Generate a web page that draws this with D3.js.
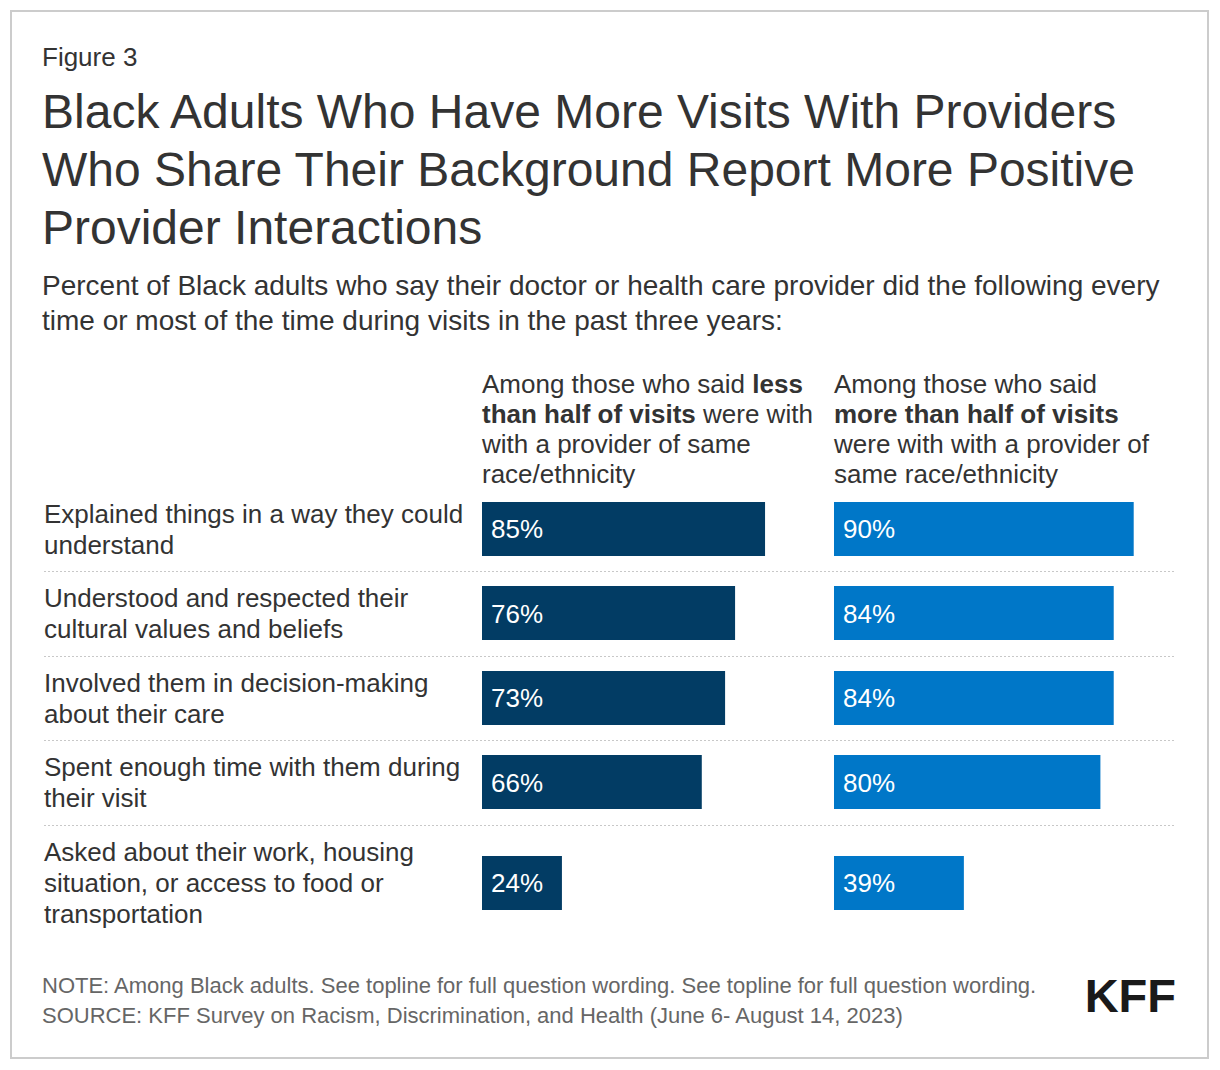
<!DOCTYPE html>
<html>
<head>
<meta charset="utf-8">
<script src="https://cdn.jsdelivr.net/npm/d3@7"></script>
<style>
  html, body { margin: 0; padding: 0; background: #fff; }
  svg { display: block; font-family: "Liberation Sans", Arial, Helvetica, sans-serif; }
</style>
</head>
<body>
<svg id="chart" width="1220" height="1070"></svg>
<script>
// ---- data ----
const categories = [
  "Explained things in a way they could\nunderstand",
  "Understood and respected their\ncultural values and beliefs",
  "Involved them in decision-making\nabout their care",
  "Spent enough time with them during\ntheir visit",
  "Asked about their work, housing\nsituation, or access to food or\ntransportation"
];
const lessThanHalf = [85, 76, 73, 66, 24];
const moreThanHalf = [90, 84, 84, 80, 39];
const seriesColors = ["#023c64", "#0077c8"];
const headerLess = [
  [["Among those who said ", false], ["less", true]],
  [["than half of visits", true], [" were with", false]],
  [["with a provider of same", false]],
  [["race/ethnicity", false]]
];
const headerMore = [
  [["Among those who said", false]],
  [["more than half of visits", true]],
  [["were with with a provider of", false]],
  [["same race/ethnicity", false]]
];
const titleLines = [
  "Black Adults Who Have More Visits With Providers",
  "Who Share Their Background Report More Positive",
  "Provider Interactions"
];
const subtitleLines = [
  "Percent of Black adults who say their doctor or health care provider did the following every",
  "time or most of the time during visits in the past three years:"
];
const noteLines = [
  "NOTE: Among Black adults. See topline for full question wording. See topline for full question wording.",
  "SOURCE: KFF Survey on Racism, Discrimination, and Health (June 6- August 14, 2023)"
];

// ---- drawing ----
const svg = d3.select("#chart");

svg.append("rect")
  .attr("x", 11).attr("y", 11).attr("width", 1197).attr("height", 1047)
  .attr("fill", "#fff").attr("stroke", "#cccccc").attr("stroke-width", 2);

svg.append("text").attr("x", 42).attr("y", 66)
  .attr("font-size", 26).attr("fill", "#333").text("Figure 3");

svg.append("g").selectAll("text").data(titleLines).join("text")
  .attr("x", 42).attr("y", (d, i) => 128 + i * 58)
  .attr("font-size", 48).attr("fill", "#333").text(d => d);

svg.append("g").selectAll("text").data(subtitleLines).join("text")
  .attr("x", 42).attr("y", (d, i) => 295 + i * 35)
  .attr("font-size", 28).attr("fill", "#333").text(d => d);

function header(lines, x) {
  const t = svg.append("g").selectAll("text").data(lines).join("text")
    .attr("x", x).attr("y", (d, i) => 393 + i * 30)
    .attr("font-size", 26).attr("fill", "#333");
  t.selectAll("tspan").data(d => d).join("tspan")
    .attr("font-weight", d => d[1] ? "bold" : "normal")
    .text(d => d[0]);
}
header(headerLess, 482);
header(headerMore, 834);

// row layout
const lineH = 31;
const rows = [];
let cursor = 486.5;
categories.forEach((c, i) => {
  const lines = c.split("\n");
  const h = lines.length * 31.5 + 21.5;
  rows.push({ label: lines, top: cursor, h: h, center: cursor + h / 2, i: i });
  cursor += h;
});

const x = d3.scaleLinear().domain([0, 100]).range([0, 333]);
const barH = 54;
const colX = [482, 834];

// separators
svg.append("g").selectAll("line").data(rows.slice(1)).join("line")
  .attr("x1", 44).attr("x2", 1176)
  .attr("y1", d => Math.round(d.top) + 0.5).attr("y2", d => Math.round(d.top) + 0.5)
  .attr("stroke", "#c8c8c8").attr("stroke-width", 1).attr("stroke-dasharray", "2,2");

// labels
const lab = svg.append("g").selectAll("text").data(rows).join("text")
  .attr("font-size", 26).attr("fill", "#333");
lab.selectAll("tspan").data(r => r.label.map((l, j) => ({ l, j, r }))).join("tspan")
  .attr("x", 44)
  .attr("y", d => d.r.center - (d.r.label.length - 1) * lineH / 2 + (d.j) * lineH + 9.5)
  .text(d => d.l);

// bars
[lessThanHalf, moreThanHalf].forEach((vals, s) => {
  const g = svg.append("g");
  g.selectAll("rect").data(rows).join("rect")
    .attr("x", colX[s])
    .attr("y", r => Math.round(r.center - barH / 2))
    .attr("width", r => x(vals[r.i]))
    .attr("height", barH)
    .attr("fill", seriesColors[s]);
  g.selectAll("text").data(rows).join("text")
    .attr("x", colX[s] + 9)
    .attr("y", r => r.center + 9.5)
    .attr("font-size", 26).attr("fill", "#fff")
    .text(r => vals[r.i] + "%");
});

// notes
svg.append("g").selectAll("text").data(noteLines).join("text")
  .attr("x", 42).attr("y", (d, i) => 993 + i * 30)
  .attr("font-size", 22).attr("fill", "#666").text(d => d);

svg.append("text").attr("x", 1176).attr("y", 1012).attr("text-anchor", "end")
  .attr("font-size", 47).attr("font-weight", "bold").attr("fill", "#1a1a1a")
  .text("KFF");
</script>
</body>
</html>
